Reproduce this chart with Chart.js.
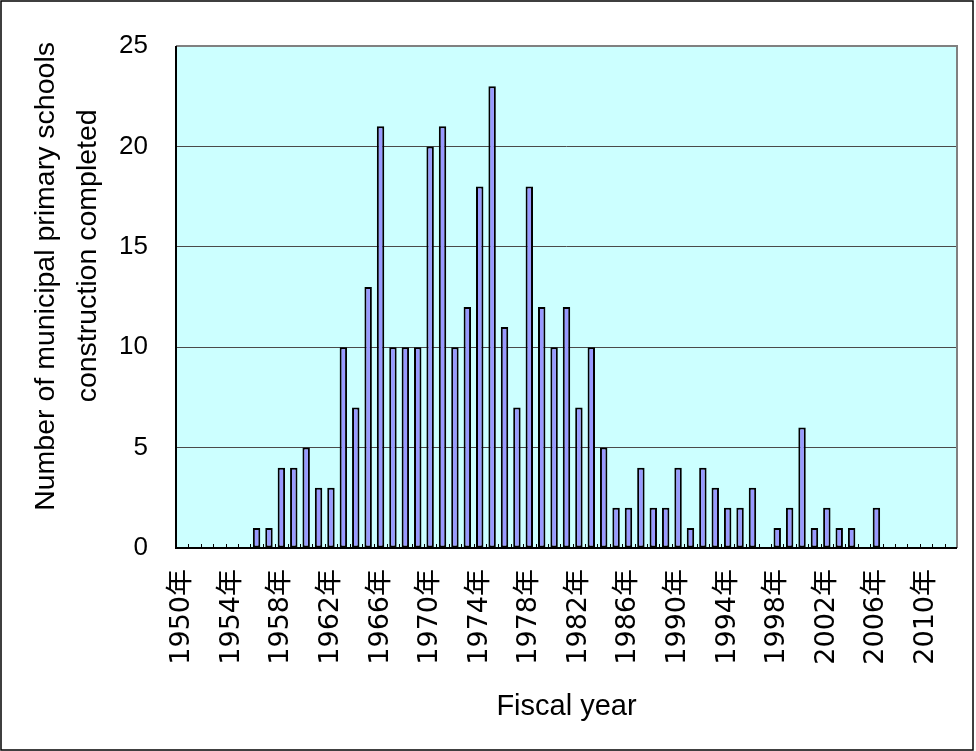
<!DOCTYPE html>
<html>
<head>
<meta charset="utf-8">
<script src="https://cdn.jsdelivr.net/npm/chart.js@4.4.1/dist/chart.umd.min.js"></script>
<style>
  html, body { margin: 0; padding: 0; background: #fff; }
  #wrap { width: 976px; height: 751px; }
</style>
</head>
<body>
<div id="wrap"><canvas id="chart" width="976" height="751"></canvas></div>
<script>
// Fiscal years on the category axis
const years = [
  '1950年','1951年','1952年','1953年','1954年','1955年','1956年','1957年','1958年','1959年',
  '1960年','1961年','1962年','1963年','1964年','1965年','1966年','1967年','1968年','1969年',
  '1970年','1971年','1972年','1973年','1974年','1975年','1976年','1977年','1978年','1979年',
  '1980年','1981年','1982年','1983年','1984年','1985年','1986年','1987年','1988年','1989年',
  '1990年','1991年','1992年','1993年','1994年','1995年','1996年','1997年','1998年','1999年',
  '2000年','2001年','2002年','2003年','2004年','2005年','2006年','2007年','2008年','2009年',
  '2010年','2011年','2012年'
];

// Municipal primary schools whose construction was completed in each fiscal year
const schoolsCompleted = [
  0, 0, 0, 0, 0, 0, 1, 1, 4, 4,
  5, 3, 3, 10, 7, 13, 21, 10, 10, 10,
  20, 21, 10, 12, 18, 23, 11, 7, 18, 12,
  10, 12, 7, 10, 5, 2, 2, 4, 2, 2,
  4, 1, 4, 3, 2, 2, 3, 0, 1, 2,
  6, 1, 2, 1, 1, 0, 2, 0, 0, 0,
  0, 0, 0
];

// Year labels printed under the axis
const labelledYears = [
  '1950年','1954年','1958年','1962年','1966年','1970年','1974年','1978年',
  '1982年','1986年','1990年','1994年','1998年','2002年','2006年','2010年'
];

const yTicks = [0, 5, 10, 15, 20, 25];

const yTitle = ['Number of municipal primary schools', 'construction completed'];
const xTitle = 'Fiscal year';

const latin = '"Liberation Sans", Arial, "Noto Sans CJK JP", sans-serif';
const yearFont = '"DejaVu Sans", "Noto Sans CJK JP", sans-serif';

// Background, outer frame, plot frame and the small in-plot tick marks
const plotDecor = {
  id: 'plotDecor',
  beforeDraw(chart) {
    const { ctx, chartArea: a } = chart;
    ctx.save();
    ctx.fillStyle = '#ffffff';
    ctx.fillRect(0, 0, chart.width, chart.height);
    ctx.strokeStyle = '#000000';
    ctx.lineWidth = 1.5;
    ctx.strokeRect(1, 1, chart.width - 4, chart.height - 2);
    ctx.fillStyle = '#CCFFFF';
    ctx.fillRect(a.left, a.top, a.right - a.left, a.bottom - a.top);
    ctx.restore();
  },
  afterDatasetsDraw(chart) {
    const { ctx, chartArea: a, scales: { x } } = chart;
    ctx.save();
    ctx.strokeStyle = '#000000';
    ctx.lineWidth = 1;
    const n = chart.data.labels.length;
    for (let i = 1; i < n; i++) {
      const bx = Math.round((x.getPixelForValue(i - 1) + x.getPixelForValue(i)) / 2) + 0.5;
      ctx.beginPath();
      ctx.moveTo(bx, a.bottom);
      ctx.lineTo(bx, a.bottom - 4);
      ctx.stroke();
    }
    ctx.lineWidth = 2;
    ctx.strokeStyle = '#808080';
    ctx.beginPath();
    ctx.moveTo(a.left, a.top);
    ctx.lineTo(a.right, a.top);
    ctx.lineTo(a.right, a.bottom);
    ctx.stroke();
    ctx.strokeStyle = '#000000';
    ctx.beginPath();
    ctx.moveTo(a.left, a.top);
    ctx.lineTo(a.left, a.bottom);
    ctx.lineTo(a.right, a.bottom);
    ctx.stroke();
    ctx.restore();
  }
};

// Two-line value-axis title, each line centred on its own point
const valueAxisTitle = {
  id: 'valueAxisTitle',
  afterDraw(chart) {
    const { ctx, chartArea: a } = chart;
    const h = a.bottom - a.top;
    ctx.save();
    ctx.fillStyle = '#000000';
    ctx.font = '28.5px ' + latin;
    ctx.textAlign = 'center';
    ctx.textBaseline = 'middle';
    const lines = [
      { text: yTitle[0], x: 46, y: a.top + h * 0.459 },
      { text: yTitle[1], x: 88, y: a.top + h * 0.418 }
    ];
    for (const l of lines) {
      ctx.save();
      ctx.translate(l.x, l.y);
      ctx.rotate(-Math.PI / 2);
      ctx.fillText(l.text, 0, 0);
      ctx.restore();
    }
    ctx.restore();
  }
};

new Chart(document.getElementById('chart'), {
  type: 'bar',
  data: {
    labels: years,
    datasets: [{
      data: schoolsCompleted,
      backgroundColor: '#9999FF',
      borderColor: '#000000',
      borderWidth: 2,
      borderSkipped: false,
      barPercentage: 0.6,
      categoryPercentage: 1.0
    }]
  },
  options: {
    responsive: false,
    animation: false,
    devicePixelRatio: 1,
    layout: { padding: { top: 46, right: 19, left: 0, bottom: 0 } },
    plugins: {
      legend: { display: false },
      tooltip: { enabled: false }
    },
    scales: {
      x: {
        offset: true,
        grid: { display: false, drawTicks: false },
        border: { display: false },
        ticks: {
          autoSkip: false,
          minRotation: 90,
          maxRotation: 90,
          padding: 21,
          color: '#000000',
          font: { family: yearFont, size: 27 },
          callback: (v, i) => labelledYears.includes(years[i]) ? years[i] : ''
        },
        title: {
          display: true,
          text: xTitle,
          color: '#000000',
          font: { family: latin, size: 29, lineHeight: 1.2 },
          padding: { top: 0, bottom: 27 }
        },
        afterFit: (s) => { s.height = 203; s.paddingLeft = 0; s.paddingRight = 0; }
      },
      y: {
        min: 0,
        max: 25,
        afterBuildTicks: (s) => { s.ticks = yTicks.map(v => ({ value: v })); },
        ticks: {
          padding: 28,
          color: '#000000',
          font: { family: latin, size: 26 }
        },
        grid: {
          drawTicks: false,
          lineWidth: 1,
          color: (c) => (c.tick && (c.tick.value === 0 || c.tick.value === 25)) ? 'rgba(0,0,0,0)' : '#4a4a4a'
        },
        border: { display: false },
        title: { display: false },
        afterFit: (s) => { s.width = 176; s.paddingTop = 0; s.paddingBottom = 0; }
      }
    }
  },
  plugins: [plotDecor, valueAxisTitle]
});
</script>
</body>
</html>
